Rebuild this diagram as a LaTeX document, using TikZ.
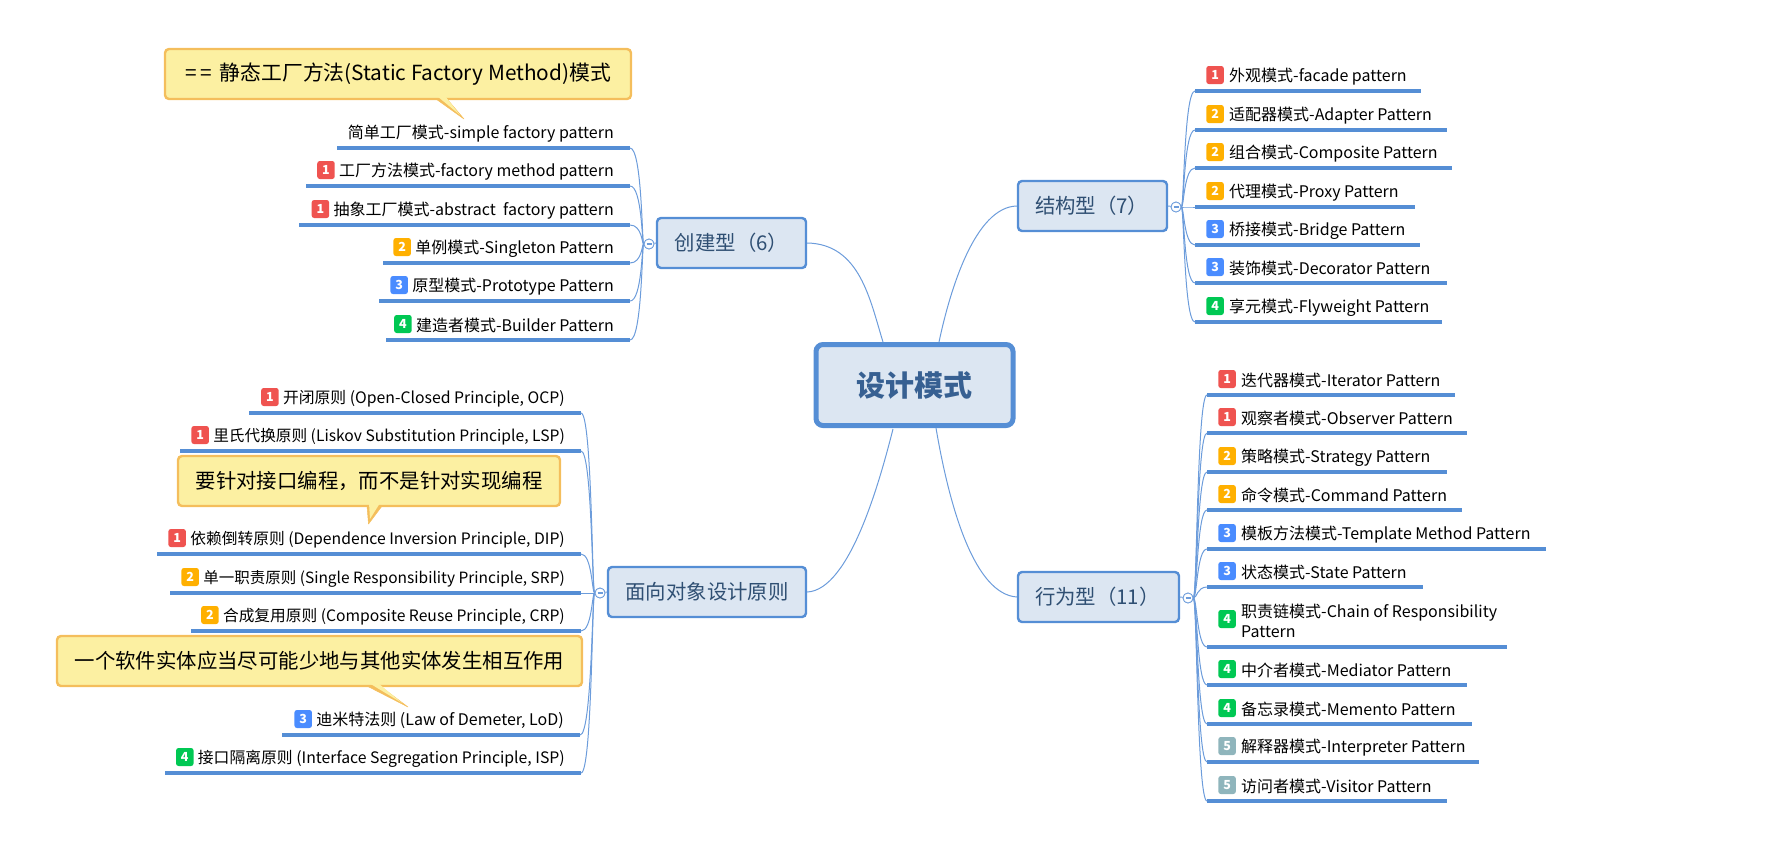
\documentclass[tikz,border=0pt]{standalone}
\usepackage{fontspec}
\setmainfont{Noto Sans CJK SC}
\usetikzlibrary{calc}
\definecolor{bl}{HTML}{558ED5}
\definecolor{br}{HTML}{6C9CDB}
\definecolor{nfill}{HTML}{DCE6F2}
\definecolor{ntext}{HTML}{2F4F73}
\definecolor{rtext}{HTML}{376092}
\definecolor{cfill}{HTML}{FCF0A2}
\definecolor{cline}{HTML}{F4BE5C}
\definecolor{p1}{HTML}{EF5350}
\definecolor{p2}{HTML}{FFB000}
\definecolor{p3}{HTML}{4A8CFF}
\definecolor{p4}{HTML}{00C853}
\definecolor{p5}{HTML}{8FB5BC}
\newcommand{\dn}[1]{\raisebox{-1.2pt}{#1}}
\newcommand{\tighter}[1]{\fontsize{#1}{20}\selectfont}
\tikzset{
  x=1pt,y=-1pt,
  lab/.style={inner sep=0pt,font=\fontsize{16}{20}\selectfont,text=black,align=left},
  badge/.style={fill=#1,rounded corners=2.5pt,minimum width=17.5pt,minimum height=18pt,inner sep=0pt,text=white,font=\fontsize{12.5}{12.5}\selectfont\bfseries},
  uline/.style={draw=bl,line width=3.4pt},
  branch/.style={draw=br,line width=1pt},
  rootbox/.style={draw=bl,fill=nfill,line width=5pt,rounded corners=7pt,inner sep=0pt,text=rtext,font=\fontsize{29}{29}\selectfont\bfseries},
  topic/.style={draw=bl,fill=nfill,line width=2.4pt,rounded corners=4pt,inner sep=0pt,text=ntext,font=\fontsize{20.4}{21}\selectfont},
  toggle/.style={draw=br,fill=white,circle,line width=.8pt,minimum size=10pt,inner sep=0pt},
  callout/.style={draw=cline,fill=cfill,line width=2.4pt,rounded corners=4pt,inner sep=0pt,text=black,font=\fontsize{20.4}{21}\selectfont},
  tailshape/.style={draw=cline,fill=cline,line width=.5pt,line join=round},
}
% right-hand leaf: [text offset above line], name, line start, line end, line y, text x, badge level, text
\newcommand{\rleaf}[8][14.5]{%
  \coordinate (#2-l) at (#3,#5);\coordinate (#2-r) at (#4,#5);
  \draw[uline] (#2-l)--(#2-r);
  \node[badge=p#7,anchor=east] (#2-b) at (#6-5,#5-#1-1.5) {#7};
  \node[lab,anchor=west] (#2) at (#6,#5-#1) {#8};
}
% left-hand leaf: name, line start, line end, line y, text right edge, badge level (empty none), text
\newcommand{\lleaf}[7]{%
  \coordinate (#1-l) at (#2,#4);\coordinate (#1-r) at (#3,#4);
  \draw[uline] (#1-l)--(#1-r);
  \node[lab,anchor=east] (#1) at (#5,#4-14.5) {#7};
  \ifx\relax#6\relax\else\node[badge=p#6,anchor=east,xshift=-4pt,yshift=1.5pt] (#1-b) at (#1.west) {#6};\fi
}
% branch from a toggle through a spine to a leaf end
\newcommand{\lbranch}[3]{\draw[branch] (#1.west) .. controls (#2 |- #1) and (#2 |- #3) .. (#3);}
\newcommand{\rbranch}[3]{\draw[branch] (#1.east) .. controls (#2 |- #1) and (#2 |- #3) .. (#3);}
\newcommand{\togglemark}[1]{\draw[br,line width=1.2pt] ($(#1)+(-2.5,0)$)--($(#1)+(2.5,0)$);}
\begin{document}
\begin{tikzpicture}
\useasboundingbox (0,0) rectangle (1788,847);
% root
\node[rootbox,minimum width=197pt,minimum height=81pt] (root) at (914.5,385) {\dn{设计模式}};
% topics
\node[topic,minimum width=149pt,minimum height=50pt] (cj) at (731.5,243) {\dn{创建型（6）}};
\node[topic,minimum width=198pt,minimum height=50pt] (oo) at (707,592) {\dn{面向对象设计原则}};
\node[topic,minimum width=149pt,minimum height=50pt,text width=115pt,align=left] (jg) at (1092.5,206) {\dn{结构型（7）}};
\node[topic,minimum width=161pt,minimum height=50pt,text width=127pt,align=left] (xw) at (1098.5,597) {\dn{行为型（11）}};
% main connectors
\draw[branch] (cj.east) .. controls (860,244) and (870,300) .. (883,342);
\draw[branch] (oo.east) .. controls (850,590) and (880,480) .. (893,429);
\draw[branch] (jg.west) .. controls (975,207) and (950,290) .. (939,342);
\draw[branch] (xw.west) .. controls (975,594) and (950,510) .. (936,428);
% toggles
\node[toggle] (tcj) at (649,244) {};
\node[toggle] (too) at (600,593) {};
\node[toggle] (tjg) at (1176,207) {};
\node[toggle] (txw) at (1188,598) {};
\coordinate (scj) at (642,244);
\coordinate (soo) at (592,593);
\coordinate (sjg) at (1184,207);
\coordinate (sxw) at (1197,598);
% stubs from topics to toggles
\draw[branch] (cj.west) -- (tcj);
\draw[branch] (oo.west) -- (too);
\draw[branch] (jg.east) -- (tjg);
\draw[branch] (xw.east) -- (txw);
% creational leaves
\lleaf{a1}{337}{630}{148}{614}{}{简单工厂模式-simple factory pattern}
\lleaf{a2}{306}{630}{186}{614}{1}{工厂方法模式-factory method pattern}
\lleaf{a3}{299}{630}{225}{614}{1}{抽象工厂模式-abstract\ \ factory pattern}
\lleaf{a4}{383}{630}{263}{614}{2}{单例模式-Singleton Pattern}
\lleaf{a5}{379}{630}{301}{614}{3}{原型模式-Prototype Pattern}
\lleaf{a6}{386}{630}{340}{614}{4}{建造者模式-Builder Pattern}
\foreach \n in {a1,a2,a3,a4,a5,a6} {\lbranch{tcj}{scj}{\n-r}}
% principle leaves
\lleaf{o1}{249}{581}{413}{565}{1}{\tighter{15.8}开闭原则 (Open-Closed Principle, OCP)}
\lleaf{o2}{180}{581}{451}{565}{1}{\tighter{15.65}里氏代换原则 (Liskov Substitution Principle, LSP)}
\lleaf{o3}{157}{581}{554}{565}{1}{\tighter{15.75}依赖倒转原则 (Dependence Inversion Principle, DIP)}
\lleaf{o4}{170}{581}{593}{565}{2}{\tighter{15.5}单一职责原则 (Single Responsibility Principle, SRP)}
\lleaf{o5}{191}{581}{631}{565}{2}{\tighter{15.7}合成复用原则 (Composite Reuse Principle, CRP)}
\lleaf{o6}{282}{580}{735}{564}{3}{迪米特法则 (Law of Demeter, LoD)}
\lleaf{o7}{165}{581}{773}{565}{4}{\tighter{15.8}接口隔离原则 (Interface Segregation Principle, ISP)}
\foreach \n in {o1,o2,o3,o4,o5,o6,o7} {\lbranch{too}{soo}{\n-r}}
% structural leaves
\rleaf{s1}{1195}{1421}{91}{1229}{1}{外观模式-facade pattern}
\rleaf{s2}{1195}{1447}{130}{1229}{2}{适配器模式-Adapter Pattern}
\rleaf{s3}{1195}{1452}{168}{1229}{2}{组合模式-Composite Pattern}
\rleaf{s4}{1195}{1415}{207}{1229}{2}{代理模式-Proxy Pattern}
\rleaf{s5}{1195}{1420}{245}{1229}{3}{桥接模式-Bridge Pattern}
\rleaf{s6}{1195}{1447}{283}{1229}{3}{装饰模式-Decorator Pattern}
\rleaf{s7}{1195}{1442}{322}{1229}{4}{享元模式-Flyweight Pattern}
\foreach \n in {s1,s2,s3,s4,s5,s6,s7} {\rbranch{tjg}{sjg}{\n-l}}
% behavioural leaves
\rleaf{b1}{1207}{1455}{395}{1241}{1}{迭代器模式-Iterator Pattern}
\rleaf{b2}{1207}{1467}{433}{1241}{1}{观察者模式-Observer Pattern}
\rleaf{b3}{1207}{1447}{472}{1241}{2}{策略模式-Strategy Pattern}
\rleaf{b4}{1207}{1462}{510}{1241}{2}{命令模式-Command Pattern}
\rleaf{b5}{1207}{1546}{549}{1241}{3}{模板方法模式-Template Method Pattern}
\rleaf{b6}{1207}{1423}{587}{1241}{3}{状态模式-State Pattern}
\rleaf[26.5]{b7}{1207}{1507}{647}{1241}{4}{职责链模式-Chain of Responsibility\\Pattern}
\rleaf{b8}{1207}{1467}{685}{1241}{4}{中介者模式-Mediator Pattern}
\rleaf{b9}{1207}{1472}{724}{1241}{4}{备忘录模式-Memento Pattern}
\rleaf{b10}{1207}{1479}{762}{1241}{5}{解释器模式-Interpreter Pattern}
\rleaf{b11}{1207}{1447}{801}{1241}{5}{访问者模式-Visitor Pattern}
\foreach \n in {b1,b2,b3,b4,b5,b6,b7,b8,b9,b10,b11} {\rbranch{txw}{sxw}{\n-l}}
% toggle faces and minus marks
\node[toggle] at (tcj) {};\togglemark{tcj}
\node[toggle] at (too) {};\togglemark{too}
\node[toggle] at (tjg) {};\togglemark{tjg}
\node[toggle] at (txw) {};\togglemark{txw}
% callouts
\coordinate (t1a) at (436,99);\coordinate (t1b) at (447,99);\coordinate (t1c) at (464,119);
\coordinate (t2a) at (367,506);\coordinate (t2b) at (382,506);\coordinate (t2c) at (368.5,524);
\coordinate (t3a) at (367,686);\coordinate (t3b) at (380,686);\coordinate (t3c) at (408,707);
\draw[tailshape] (t1a)--(t1c)--(t1b)--cycle;
\draw[tailshape] (t2a)--(t2c)--(t2b)--cycle;
\draw[tailshape] (t3a)--(t3c)--(t3b)--cycle;
\node[callout,minimum width=466pt,minimum height=50pt,font=\fontsize{20.8}{21}\selectfont] (c1) at (398,74) {\dn{=\kern4pt=\kern3pt\ 静态工厂方法(Static Factory Method)模式}};
\node[callout,minimum width=382pt,minimum height=50pt] (c2) at (369,481) {\dn{要针对接口编程，而不是针对实现编程}};
\node[callout,minimum width=525pt,minimum height=50pt] (c3) at (319.5,661) {\dn{一个软件实体应当尽可能少地与其他实体发生相互作用}};
\fill[cfill] (437,96) -- (445,96) -- (460,115) -- cycle;
\fill[cfill] (369,503) -- (380,503) -- (370,519) -- cycle;
\fill[cfill] (369,683) -- (378,683) -- (402,703) -- cycle;
\end{tikzpicture}
\end{document}
